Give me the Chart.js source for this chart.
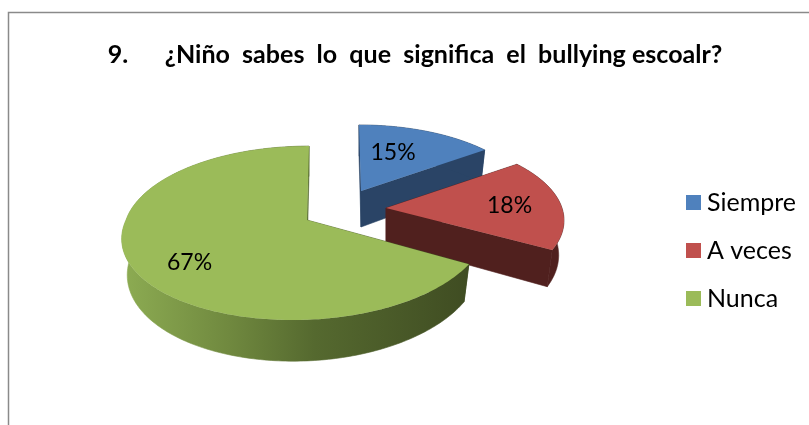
<!DOCTYPE html>
<html><head><meta charset="utf-8">
<script src="https://cdn.jsdelivr.net/npm/chart.js@4"></script>
<style>html,body{margin:0;padding:0;background:#fff}#w{position:absolute;left:0;top:0;width:809px;height:425px}</style>
</head><body><div id="w"><canvas id="c" width="809" height="425"></canvas></div>
<script>
const categories = ['Siempre', 'A veces', 'Nunca'];
const values = [15, 18, 67];
const titleText = '9.      ¿Niño  sabes  lo  que  significa  el  bullying escoalr?';
const faceColors = ['#4f81bd', '#c0504d', '#9bbb59'];
const FONT = 'Lato, Carlito, sans-serif';

// Look of the exploded 3D pie (projection parameters for each slice)
const sliceLook = [
  {ax:361, ay:191, rl:168, rr:168, t:76, k:.15, lean:-2.3, leanB:0, depth:36, wall:'#2a4466', lx:.49, ly:.65},
  {ax:386, ay:208, rl:175, rr:176, t:81, k:.15, lean:0, leanB:0, depth:34, wall:'#50201e', lx:.71, ly:.4},
  {ax:307, ay:220, rl:181, rr:178, t:85, k:.15, lean:2.3, leanB:-12, depth:35, wall:null, lx:.67, ly:.9}
];
function project(L, th, r, low) {
  const u = Math.sin(th)*r, v = -Math.cos(th)*r;
  const s = 1/(1 - L.k*v);
  let dx = (u < 0 ? L.rl : L.rr)*u*s + (v < 0 ? -L.lean : L.leanB)*v*s;
  let y = L.ay + L.t*v*s;
  if (low) { dx *= .97; y += L.depth*s; }
  return [L.ax + dx, y];
}
function path(ctx, pts){ ctx.beginPath(); pts.forEach((p,i)=> i?ctx.lineTo(p[0],p[1]):ctx.moveTo(p[0],p[1])); ctx.closePath(); }
function square(color){ const c=document.createElement('canvas'); c.width=15; c.height=15; const x=c.getContext('2d'); x.fillStyle=color; x.fillRect(0,0,15,15); return c; }

const pie3d = {
  id:'pie3d',
  beforeDraw(chart){
    const ctx = chart.ctx; ctx.save();
    ctx.strokeStyle='#8a8a8a'; ctx.lineWidth=1.5;
    ctx.beginPath(); ctx.moveTo(8.5,425); ctx.lineTo(8.5,12.5); ctx.lineTo(809,12.5); ctx.stroke();
    ctx.restore();
  },
  beforeDatasetsDraw(chart){
    const ctx = chart.ctx, arcs = chart.getDatasetMeta(0).data;
    ctx.save();
    arcs.forEach((arc,i)=>{
      const L = sliceLook[i], a = arc.startAngle+Math.PI/2, b = arc.endAngle+Math.PI/2;
      const n = 240, top=[], low=[];
      for(let j=0;j<=n;j++){ const th=a+(b-a)*j/n; top.push(project(L,th,1,false)); low.push(project(L,th,1,true)); }
      const apex=[L.ax,L.ay], apexLow=[L.ax,L.ay+L.depth];
      let fill = L.wall;
      if(!fill){ const g=ctx.createLinearGradient(125,0,470,0);
        g.addColorStop(0,'#8cab52'); g.addColorStop(.3,'#70893f'); g.addColorStop(.55,'#55692f'); g.addColorStop(1,'#3f4c22'); fill=g; }
      ctx.fillStyle=fill; ctx.strokeStyle=fill; ctx.lineWidth=.6;
      [[apex,top[0],low[0],apexLow],[apex,top[n],low[n],apexLow],top.concat(low.slice().reverse())].forEach(q=>{ path(ctx,q); ctx.fill(); ctx.stroke(); });
      ctx.fillStyle=faceColors[i];
      path(ctx,[apex].concat(top)); ctx.fill();
    });
    ctx.fillStyle='#000'; ctx.font='23px '+FONT; ctx.textAlign='center'; ctx.textBaseline='middle';
    const total = values.reduce((p,q)=>p+q,0);
    arcs.forEach((arc,i)=>{
      const L=sliceLook[i], m=(arc.startAngle+arc.endAngle)/2+Math.PI/2, p=project(L,m,1,false);
      ctx.fillText(Math.round(values[i]/total*100)+'%', L.ax+(p[0]-L.ax)*L.lx, L.ay+(p[1]-L.ay)*L.ly);
    });
    ctx.restore();
    return false;
  }
};

new Chart(document.getElementById('c'), {
  type:'pie',
  data:{labels:categories, datasets:[{data:values, backgroundColor:faceColors, borderWidth:0}]},
  plugins:[pie3d],
  options:{
    responsive:false, animation:false,
    layout:{padding:{left:24,right:3,top:0,bottom:-76}},
    plugins:{
      tooltip:{enabled:false},
      title:{display:true, text:titleText, color:'#000', font:{family:FONT,size:25.05,weight:'bold'}, padding:{top:40,bottom:10}},
      legend:{position:'right', labels:{usePointStyle:true, pointStyleWidth:2, padding:23, color:'#000', font:{family:FONT,size:25},
        generateLabels(){ return categories.map((t,i)=>({text:t, fontColor:'#000', pointStyle:square(faceColors[i]), fillStyle:faceColors[i], strokeStyle:faceColors[i], lineWidth:0, hidden:false, index:i})); }}}
    }
  }
});
</script></body></html>
